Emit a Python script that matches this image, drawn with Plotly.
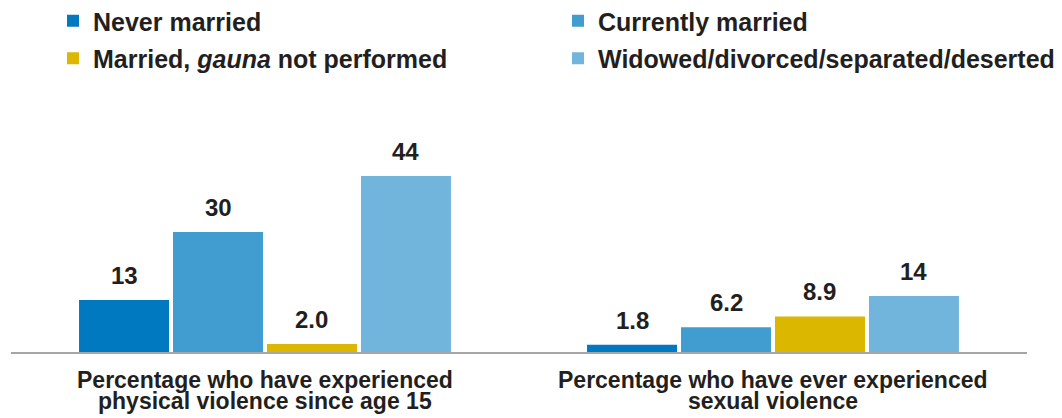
import plotly.graph_objects as go

# Categories and series values
categories = [
    "Percentage who have experienced<br>physical violence since age 15",
    "Percentage who have ever experienced<br>sexual violence",
]
series_names = [
    "Never married",
    "Currently married",
    "Married, <i>gauna</i> not performed",
    "Widowed/divorced/separated/deserted",
]
never_married = [13, 1.8]
currently_married = [30, 6.2]
gauna_not_performed = [2.0, 8.9]
widowed_divorced = [44, 14]
value_labels = [["13", "1.8"], ["30", "6.2"], ["2.0", "8.9"], ["44", "14"]]

series_values = [never_married, currently_married, gauna_not_performed, widowed_divorced]
colors = ["#0079C1", "#419CD0", "#DBB700", "#72B5DC"]
legend_ids = ["legend", "legend", "legend2", "legend2"]

BARGAP = 0.26
GROUPGAP = 0.0426
FONT = "Liberation Sans, Arial, sans-serif"
TEXT_COLOR = "#231F20"
W, H = 1062, 418
M_TOP, M_BOT = 152, 66

fig = go.Figure()
for name, vals, col, lg in zip(series_names, series_values, colors, legend_ids):
    fig.add_trace(go.Bar(
        x=list(range(len(categories))), y=vals, name=name,
        marker=dict(color=col, line=dict(width=0)),
        legend=lg,
    ))

# Value labels above each bar
n = len(series_values)
slot = (1 - BARGAP) / n
for i, (vals, labels) in enumerate(zip(series_values, value_labels)):
    for c, (v, t) in enumerate(zip(vals, labels)):
        fig.add_annotation(
            x=c + (i - (n - 1) / 2) * slot, y=v, text=f"<b>{t}</b>",
            showarrow=False, yanchor="bottom", yshift=9,
            font=dict(family=FONT, size=24, color=TEXT_COLOR),
        )

# Category labels under the axis, one annotation per line for tight spacing
plot_h = H - M_TOP - M_BOT
line_centers_px = [380, 401]
for c, cat in enumerate(categories):
    for line, py in zip(cat.split("<br>"), line_centers_px):
        fig.add_annotation(
            x=c, xref="x", y=-(py - (H - M_BOT)) / plot_h, yref="paper",
            text=f"<b>{line}</b>", showarrow=False, yanchor="middle",
            font=dict(family=FONT, size=23, color=TEXT_COLOR),
        )

legend_style = dict(
    orientation="h", xanchor="left", yanchor="middle",
    xref="container", yref="container",
    font=dict(family=FONT, size=25, color=TEXT_COLOR, weight="bold"),
    entrywidth=460, entrywidthmode="pixels",
    bgcolor="rgba(0,0,0,0)", itemclick=False, itemdoubleclick=False,
)

fig.update_layout(
    width=W, height=H,
    margin=dict(l=11, r=35, t=M_TOP, b=M_BOT, autoexpand=False),
    paper_bgcolor="white", plot_bgcolor="white",
    barmode="group", bargap=BARGAP, bargroupgap=GROUPGAP,
    showlegend=True,
    legend=dict(x=53 / W, y=1 - 21 / H, **legend_style),
    legend2=dict(x=53 / W, y=1 - 58.5 / H, **legend_style),
    xaxis=dict(
        showline=True, linecolor="#A6A6A6", linewidth=2,
        ticks="", showgrid=False, range=[-0.5, 1.5],
        showticklabels=False, automargin=False,
    ),
    yaxis=dict(range=[0, 50], visible=False, showgrid=False, zeroline=False,
               automargin=False),
)

fig.write_html("out.html")
